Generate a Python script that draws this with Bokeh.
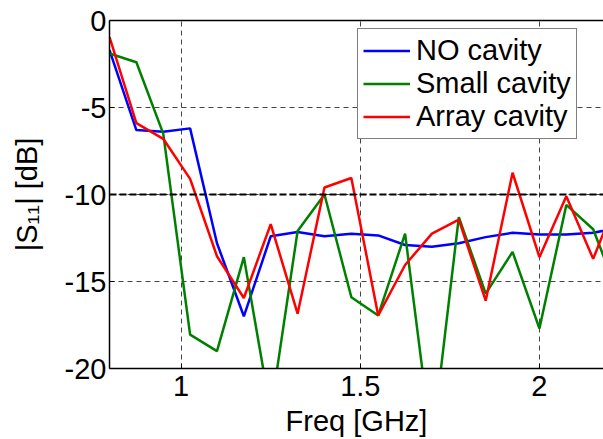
from bokeh.plotting import figure
from bokeh.models import LinearAxis, FixedTicker, Span, Legend, LegendItem, Range1d
from bokeh.embed import file_html
from bokeh.resources import INLINE

# ---- data ----
freq = [0.8, 0.875, 0.95, 1.025, 1.1, 1.175, 1.25, 1.325, 1.4, 1.475,
        1.55, 1.625, 1.7, 1.775, 1.85, 1.925, 2.0, 2.075, 2.15, 2.225]
no_cavity = [-1.7, -6.3, -6.4, -6.2, -12.8, -17.0, -12.4, -12.15, -12.4, -12.25,
             -12.35, -12.9, -13.0, -12.8, -12.45, -12.2, -12.3, -12.3, -12.2, -11.9]
small_cavity = [-1.9, -2.4, -6.5, -18.05, -19.0, -13.6, -22.5, -12.1, -10.0, -15.9,
                -16.95, -12.25, -24.4, -11.3, -15.7, -13.3, -17.7, -10.6, -12.0, -16.0]
array_cavity = [-0.95, -5.9, -6.8, -9.1, -13.55, -15.95, -11.7, -16.85, -9.6, -9.05,
                -16.95, -14.05, -12.25, -11.45, -16.1, -8.75, -13.6, -10.1, -13.7, -9.8]
series_names = ["NO cavity", "Small cavity", "Array cavity"]
threshold_db = -10

x_ticks = [1, 1.5, 2]
x_tick_labels = ["1", "1.5", "2"]
y_ticks = [0, -5, -10, -15, -20]
y_tick_labels = ["0", "-5", "-10", "-15", "-20"]

FONT = "Liberation Sans"
FS = "29px"

p = figure(width=603, height=439,
           x_range=Range1d(0.8, 2.1788), y_range=Range1d(-20, 0),
           output_backend="svg", toolbar_location=None,
           min_border_left=109, min_border_right=0,
           min_border_top=20, min_border_bottom=70)
p.outline_line_color = None
p.background_fill_color = "white"
p.border_fill_color = "white"

# axes
xa = p.xaxis[0]
ya = p.yaxis[0]
xa.ticker = FixedTicker(ticks=x_ticks)
ya.ticker = FixedTicker(ticks=y_ticks)
xa.major_label_overrides = {t: s for t, s in zip(x_ticks, x_tick_labels)}
ya.major_label_overrides = {t: s for t, s in zip(y_ticks, y_tick_labels)}
xa.axis_label = "Freq [GHz]"
ya.axis_label = "|S\u2081\u2081| [dB]"
for ax in (xa, ya):
    ax.major_label_text_font = FONT
    ax.major_label_text_font_size = FS
    ax.major_label_text_color = "black"
    ax.axis_label_text_font = FONT
    ax.axis_label_text_font_size = FS
    ax.axis_label_text_font_style = "normal"
    ax.axis_label_text_color = "black"
    ax.axis_line_color = "black"
    ax.axis_line_width = 1.5
    ax.major_tick_in = 5
    ax.major_tick_out = 0
    ax.major_tick_line_color = "black"
    ax.minor_tick_line_color = None
xa.major_label_standoff = 7
xa.axis_label_standoff = 6
ya.major_label_standoff = 3
ya.axis_label_standoff = 19

# top border line (no labels)
top = LinearAxis(ticker=FixedTicker(ticks=[]),
                 axis_line_color="black", axis_line_width=1.5,
                 major_tick_in=0, major_tick_out=0, major_label_standoff=0,
                 minor_tick_line_color=None)
p.add_layout(top, "above")

# grid
for g in (p.xgrid[0], p.ygrid[0]):
    g.grid_line_color = "#444444"
    g.grid_line_width = 1
    g.grid_line_dash = "5 4"
p.xgrid[0].ticker = FixedTicker(ticks=x_ticks)
p.ygrid[0].ticker = FixedTicker(ticks=y_ticks)

p.add_layout(Span(location=threshold_db, dimension="width", line_color="black",
                  line_width=2, line_dash="7 3"))

colors = ["#0000ff", "#008000", "#ff0000"]
renderers = []
for ys, c in zip([no_cavity, small_cavity, array_cavity], colors):
    renderers.append(p.line(freq, ys, line_color=c, line_width=2.5))

legend = Legend(items=[LegendItem(label=n, renderers=[r]) for n, r in zip(series_names, renderers)],
                location=(248, 229), label_text_font=FONT, label_text_font_size=FS,
                label_text_color="black", glyph_width=47, glyph_height=33,
                label_height=33, label_standoff=6, padding=5, spacing=0, margin=0,
                border_line_color="black", border_line_width=1.5,
                background_fill_color="white", background_fill_alpha=1)
p.add_layout(legend)

open("out.html", "w").write(file_html(p, INLINE))
